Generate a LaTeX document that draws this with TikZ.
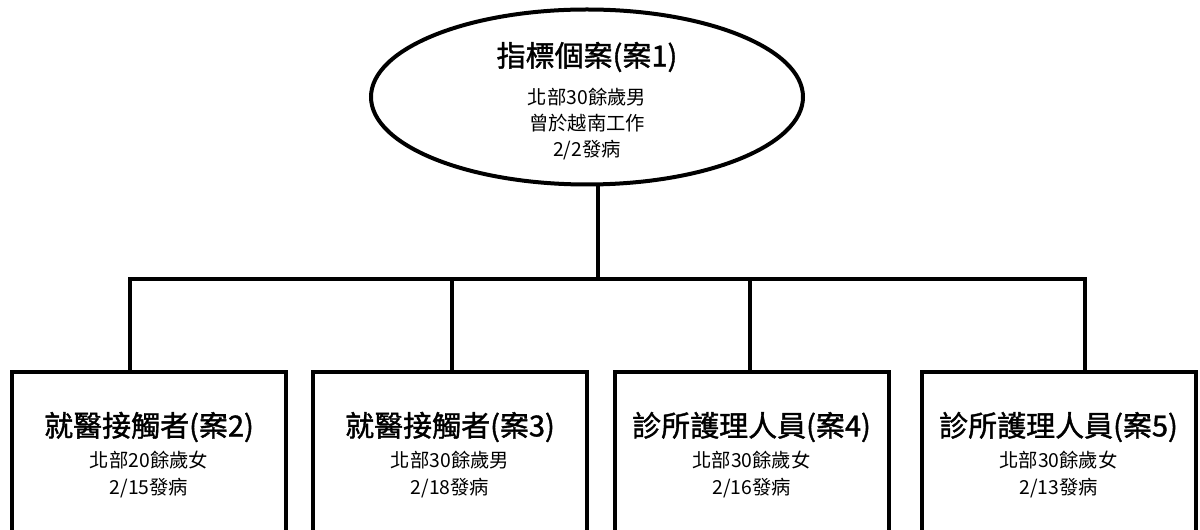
\documentclass[tikz,border=0pt]{standalone}
\usepackage{fontspec}
\setmainfont{Noto Sans CJK TC}
\newfontfamily\ttlfont[BoldFont={Noto Sans CJK TC}, BoldFeatures={FakeBold=1.3}]{Noto Sans CJK TC}
\usetikzlibrary{shapes.geometric}
\tikzset{
  conn/.style={line width=3pt},
  casebox/.style={draw, line width=3pt, rectangle, minimum width=205.5pt, minimum height=135pt, inner sep=0pt},
  indexcase/.style={draw, line width=3pt, ellipse, minimum width=324pt, minimum height=131.25pt, inner sep=0pt},
  ttl/.style={inner sep=0pt, font=\ttlfont\fontsize{21.75}{26}\selectfont\bfseries},
  sub/.style={inner sep=0pt, font=\fontsize{14.5}{18}\selectfont},
}
\begin{document}
\begin{tikzpicture}[x=0.75pt, y=-0.75pt]
\useasboundingbox (0,0) rectangle (1200,530);
\clip (0,0) rectangle (1200,530);
% index case
\node[indexcase] (e) at (587,97) {};
\node[ttl] (e1) at (587,57) {指標個案(案1)};
\node[sub] (e2) at (587,97) {北部30餘歲男};
\node[sub] (e3) at (587,123) {曾於越南工作};
\node[sub] (e4) at (587,150) {2/2發病};
% boxes
\node[casebox] (b2) at (149,462) {};
\node[casebox] (b3) at (450,462) {};
\node[casebox] (b4) at (751.5,462) {};
\node[casebox] (b5) at (1058.5,462) {};
\node[ttl] (t2) at (149,427) {就醫接觸者(案2)};
\node[sub] (a2) at (149,460) {北部20餘歲女};
\node[sub] (d2) at (149,488) {2/15發病};
\node[ttl] (t3) at (450,427) {就醫接觸者(案3)};
\node[sub] (a3) at (450,460) {北部30餘歲男};
\node[sub] (d3) at (450,488) {2/18發病};
\node[ttl] (t4) at (751.5,427) {診所護理人員(案4)};
\node[sub] (a4) at (751.5,460) {北部30餘歲女};
\node[sub] (d4) at (751.5,488) {2/16發病};
\node[ttl] (t5) at (1058.5,427) {診所護理人員(案5)};
\node[sub] (a5) at (1058.5,460) {北部30餘歲女};
\node[sub] (d5) at (1058.5,488) {2/13發病};
% connectors
\coordinate (t) at (598,279);
\coordinate (j2) at (130,279);
\coordinate (j3) at (452,279);
\coordinate (j4) at (750,279);
\coordinate (j5) at (1085,279);
\draw[conn] (t |- e.south) -- (t);
\draw[conn] (j2 |- b2.north) -- (j2) -- (j5) -- (j5 |- b5.north);
\draw[conn] (j3) -- (j3 |- b3.north);
\draw[conn] (j4) -- (j4 |- b4.north);
\end{tikzpicture}
\end{document}
